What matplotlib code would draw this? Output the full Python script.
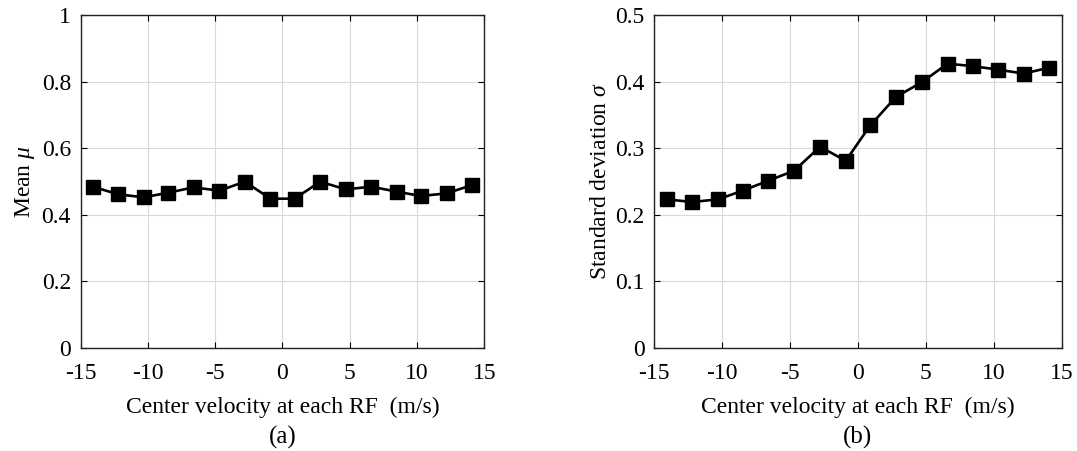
import matplotlib
matplotlib.use("Agg")
import matplotlib.pyplot as plt

plt.rcParams['font.family'] = ['Liberation Serif', 'DejaVu Serif']
plt.rcParams['mathtext.fontset'] = 'custom'
plt.rcParams['mathtext.it'] = 'Liberation Serif:italic'
plt.rcParams['mathtext.rm'] = 'Liberation Serif'
plt.rcParams['axes.unicode_minus'] = False

velocity = [-14.1, -12.2, -10.3, -8.5, -6.6, -4.7, -2.8, -0.9,
            0.9, 2.8, 4.7, 6.6, 8.5, 10.3, 12.2, 14.1]
mean_mu = [0.484, 0.461, 0.452, 0.466, 0.482, 0.472, 0.499, 0.448,
           0.448, 0.499, 0.476, 0.484, 0.469, 0.456, 0.464, 0.489]
std_sigma = [0.223, 0.219, 0.223, 0.236, 0.251, 0.266, 0.302, 0.281,
             0.334, 0.377, 0.399, 0.427, 0.423, 0.418, 0.412, 0.421]

xticks = [-15, -10, -5, 0, 5, 10, 15]
yticks_a = [0, 0.2, 0.4, 0.6, 0.8, 1]
yticklabels_a = ['0', '0.2', '0.4', '0.6', '0.8', '1']
yticks_b = [0, 0.1, 0.2, 0.3, 0.4, 0.5]
yticklabels_b = ['0', '0.1', '0.2', '0.3', '0.4', '0.5']

fig = plt.figure(figsize=(10.77, 4.51), dpi=100)
ax1 = fig.add_axes([0.0749, 0.229, 0.3748, 0.7377])
ax2 = fig.add_axes([0.6075, 0.229, 0.3783, 0.7377])

FS = 17

def style(ax, y, yticks, yticklabels, ylim, ylabel, tag):
    ax.plot(velocity, y, color='black', lw=1.9, marker='s', ms=10.5,
            mfc='black', mec='black')
    ax.set_xlim(-15, 15)
    ax.set_ylim(*ylim)
    ax.set_xticks(xticks)
    ax.set_xticklabels([str(t) for t in xticks])
    ax.set_yticks(yticks)
    ax.set_yticklabels(yticklabels)
    ax.grid(True, color='#d9d9d9', lw=0.8)
    ax.set_axisbelow(True)
    ax.tick_params(direction='in', top=True, right=True, labelsize=FS,
                   length=4, width=0.8)
    ax.tick_params(axis='x', pad=11)
    ax.tick_params(axis='y', pad=7)
    for s in ax.spines.values():
        s.set_linewidth(1.0)
        s.set_color('#222222')
    ax.set_xlabel('Center velocity at each RF  (m/s)', fontsize=FS, labelpad=9)
    ax.set_ylabel(ylabel, fontsize=FS, labelpad=3)
    ax.text(0.5, -0.27, tag, transform=ax.transAxes, ha='center',
            va='center', fontsize=FS + 1)

style(ax1, mean_mu, yticks_a, yticklabels_a, (0, 1), r'Mean $\mu$', '(a)')
style(ax2, std_sigma, yticks_b, yticklabels_b, (0, 0.5),
      r'Standard deviation $\sigma$', '(b)')

fig.savefig('out.png', dpi=100)
